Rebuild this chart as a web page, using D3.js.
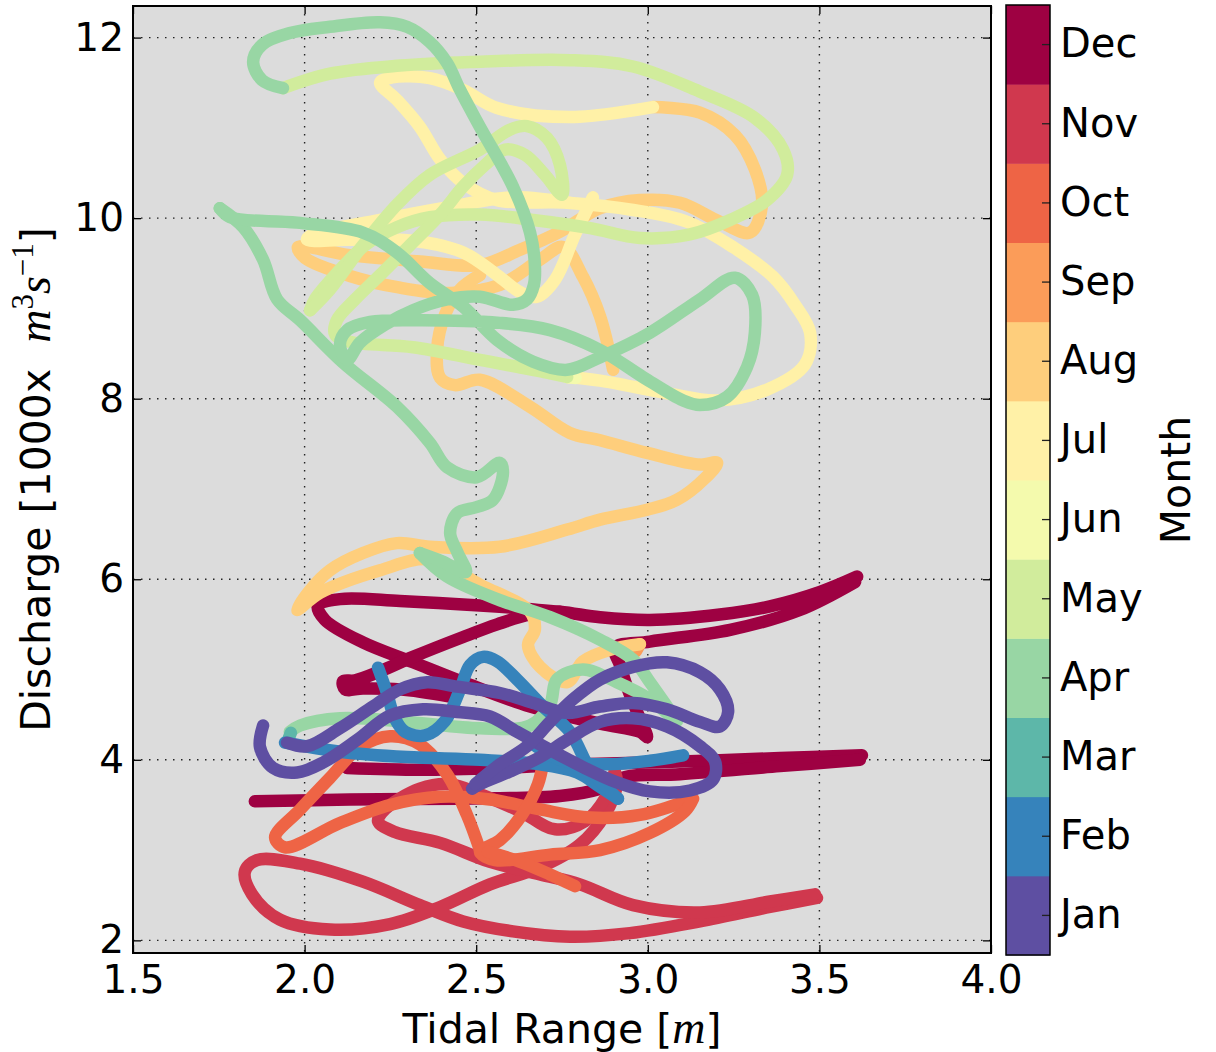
<!DOCTYPE html>
<html>
<head>
<meta charset="utf-8">
<script src="https://cdn.jsdelivr.net/npm/d3@7"></script>
<style>
body { margin: 0; background: #fff; }
text { font-family: "DejaVu Sans", sans-serif; fill: #000; }
</style>
</head>
<body>
<script>
var months = ["Jan","Feb","Mar","Apr","May","Jun","Jul","Aug","Sep","Oct","Nov","Dec"];
var xTicks = [1.5, 2.0, 2.5, 3.0, 3.5, 4.0];
var yTicks = [2, 4, 6, 8, 10, 12];

// trajectory pieces: [tidal range (m), discharge (1000 m3/s)]
var janA = [[1.879,4.38],[1.870,4.14],[1.908,3.91],[1.978,3.86],[2.054,3.97],[2.153,4.22],[2.249,4.49],[2.345,4.56],[2.444,4.53],[2.540,4.48],[2.619,4.31],[2.715,4.11],[2.811,3.92],[2.910,3.75],[3.006,3.65],[3.123,3.66],[3.190,3.78],[3.196,3.98],[3.152,4.15],[3.056,4.37],[2.957,4.46],[2.861,4.42],[2.765,4.22],[2.686,4.03],[2.598,3.87],[2.511,3.73],[2.488,3.68]];
var janB = [[1.949,4.19],[2.007,4.15],[2.103,4.35],[2.199,4.59],[2.278,4.78],[2.357,4.86],[2.444,4.81],[2.569,4.74],[2.666,4.63],[2.765,4.52],[2.861,4.59],[2.957,4.63],[3.056,4.56],[3.152,4.42],[3.210,4.37],[3.234,4.53],[3.210,4.78],[3.152,4.97],[3.056,5.08],[2.957,5.03],[2.861,4.89],[2.782,4.67],[2.715,4.42],[2.648,4.15],[2.569,3.95],[2.497,3.73]];
var febA = [[1.943,4.19],[2.103,4.09],[2.298,4.03],[2.511,4.00],[2.686,3.95],[2.794,3.86],[2.861,3.70],[2.913,3.57]];
var febB = [[2.913,3.57],[2.875,3.71],[2.832,3.89],[2.773,4.31],[2.695,4.59],[2.619,4.89],[2.561,5.09],[2.520,5.14],[2.482,5.05],[2.453,4.78],[2.409,4.43],[2.351,4.27],[2.293,4.31],[2.263,4.46],[2.240,4.74],[2.214,5.02]];
var febC = [[2.657,4.20],[2.744,4.00],[2.870,3.95],[3.006,3.99],[3.103,4.05]];
var mar = [[1.950,4.20],[1.960,4.30]];
var aprA = [[1.957,4.31],[1.987,4.38],[2.103,4.46],[2.298,4.42],[2.511,4.35],[2.657,4.38],[2.715,4.61],[2.735,4.89],[2.811,5.00],[2.910,4.86],[3.006,4.67],[3.085,4.43],[3.056,4.59],[3.006,4.86],[2.957,5.11],[2.861,5.33],[2.715,5.58],[2.561,5.78],[2.415,6.03],[2.336,6.29]];
var aprB = [[2.336,6.29],[2.400,6.20],[2.470,6.08],[2.445,6.30],[2.424,6.51],[2.444,6.73],[2.502,6.80],[2.549,6.88],[2.578,7.18],[2.569,7.29],[2.502,7.13],[2.415,7.24],[2.365,7.51],[2.269,7.91],[2.112,8.40],[1.987,8.87],[1.920,9.10],[1.879,9.54],[1.821,9.90],[1.753,10.11]];
var aprC = [[1.753,10.11],[1.783,10.01],[1.978,9.95],[2.170,9.84],[2.269,9.62],[2.365,9.28],[2.462,9.02],[2.561,8.65],[2.666,8.41],[2.765,8.32],[2.861,8.46],[3.006,8.73],[3.152,9.10],[3.254,9.34],[3.304,9.15],[3.312,8.73],[3.289,8.35],[3.231,8.02],[3.152,7.93],[3.103,7.98],[2.986,8.24],[2.861,8.54],[2.715,8.76],[2.569,8.84],[2.316,8.87],[2.191,8.85],[2.124,8.76],[2.103,8.60],[2.124,8.43],[2.161,8.62],[2.234,8.82],[2.316,8.98],[2.415,9.10],[2.511,9.13],[2.607,9.04],[2.648,9.10],[2.668,9.26],[2.671,9.48],[2.657,9.84],[2.607,10.35],[2.511,11.01],[2.453,11.42],[2.415,11.72],[2.365,11.95],[2.298,12.12],[2.220,12.17],[2.074,12.12],[1.957,12.05],[1.876,11.92],[1.850,11.73],[1.876,11.53],[1.937,11.44]];
var mayA = [[1.937,11.44],[2.074,11.60],[2.278,11.69],[2.482,11.73],[2.773,11.75],[2.957,11.68],[3.152,11.40],[3.312,11.11],[3.394,10.76],[3.406,10.48],[3.347,10.20],[3.240,9.98],[3.123,9.82],[2.977,9.78],[2.832,9.89],[2.666,9.98],[2.511,10.04],[2.365,10.01],[2.269,9.90],[2.176,9.70],[2.089,9.37],[2.030,9.10],[2.016,8.98]];
var mayB = [[2.016,8.98],[2.074,9.21],[2.170,9.70],[2.269,10.15],[2.365,10.48],[2.511,10.76],[2.598,10.98],[2.648,11.02],[2.706,10.89],[2.744,10.59],[2.750,10.26],[2.700,10.48],[2.642,10.70],[2.584,10.76],[2.526,10.59],[2.462,10.35],[2.395,10.04],[2.307,9.70],[2.220,9.37],[2.147,9.10],[2.094,8.87],[2.089,8.71],[2.132,8.63],[2.316,8.57],[2.511,8.43],[2.706,8.29],[2.765,8.24]];
var jun = [[2.765,8.24],[2.790,8.23]];
var julA = [[2.765,8.24],[2.861,8.20],[3.056,8.06],[3.202,7.98],[3.347,8.10],[3.458,8.38],[3.473,8.73],[3.429,9.04],[3.365,9.35],[3.248,9.68],[3.114,9.96],[2.957,10.09],[2.765,10.17],[2.561,10.20],[2.462,10.39],[2.395,10.65],[2.336,11.01],[2.269,11.31],[2.220,11.50],[2.255,11.56],[2.365,11.55],[2.462,11.42],[2.561,11.22],[2.773,11.12],[3.015,11.23]];
var julB = [[2.840,10.23],[2.788,9.82],[2.730,9.32],[2.677,9.13],[2.628,9.18],[2.561,9.37],[2.462,9.62],[2.316,9.75],[2.124,9.76],[2.007,9.76],[2.024,9.82],[2.220,9.98],[2.415,10.12],[2.607,10.23],[2.773,10.17]];
var augA = [[3.015,11.23],[3.152,11.17],[3.254,10.92],[3.312,10.54],[3.333,10.15],[3.298,9.84],[3.210,9.96],[3.094,10.17],[2.977,10.20],[2.861,10.11],[2.744,9.85],[2.628,9.65],[2.511,9.48],[2.336,9.52],[2.132,9.59],[1.981,9.68],[2.001,9.56],[2.132,9.36],[2.278,9.23],[2.424,9.17],[2.569,9.26],[2.686,9.54],[2.753,9.68],[2.811,9.35],[2.861,8.91],[2.899,8.32]];
var augB = [[2.511,9.37],[2.453,9.21],[2.409,8.93],[2.386,8.54],[2.395,8.23],[2.438,8.15],[2.511,8.21],[2.657,7.91],[2.773,7.62],[2.861,7.54],[2.998,7.40],[3.152,7.27],[3.202,7.29],[3.167,7.12],[3.085,6.88],[2.998,6.77],[2.861,6.66],[2.765,6.55],[2.569,6.36],[2.365,6.36],[2.269,6.40],[2.170,6.29],[2.074,6.10],[2.016,5.88],[1.978,5.66],[2.045,5.85],[2.220,6.10],[2.365,6.22],[2.511,5.94],[2.657,5.64],[2.671,5.44],[2.651,5.27],[2.686,5.03],[2.765,4.86],[2.811,5.09],[2.890,5.22],[2.977,5.28]];
var sep = [[2.977,5.28],[2.965,5.20]];
var octA = [[2.511,3.00],[2.473,3.39],[2.415,3.84],[2.336,4.17],[2.249,4.26],[2.161,4.14],[2.074,3.80],[1.987,3.45],[1.914,3.14],[1.943,3.03],[2.103,3.30],[2.249,3.50],[2.395,3.59],[2.540,3.56],[2.686,3.45],[2.832,3.36],[2.977,3.39],[3.123,3.56]];
var octB = [[2.700,4.09],[2.680,3.73],[2.633,3.39],[2.569,3.11],[2.511,2.98],[2.555,2.89],[2.715,2.95],[2.861,3.00],[3.006,3.19],[3.108,3.43],[3.132,3.57]];
var octC = [[2.534,2.98],[2.628,2.87],[2.715,2.73],[2.788,2.60]];
var novA = [[3.493,2.47],[3.356,2.37],[3.152,2.21],[2.948,2.08],[2.773,2.04],[2.607,2.10],[2.462,2.21],[2.336,2.39],[2.170,2.65],[1.987,2.85],[1.861,2.89],[1.826,2.76],[1.847,2.51],[1.928,2.23],[2.074,2.12],[2.249,2.18],[2.395,2.37],[2.540,2.62],[2.686,2.81],[2.802,3.06],[2.875,3.39],[2.910,3.73],[2.904,3.87]];
var novB = [[2.904,3.87],[2.875,3.57],[2.817,3.32],[2.730,3.23],[2.628,3.43],[2.511,3.62],[2.424,3.73],[2.336,3.68],[2.234,3.45],[2.214,3.32],[2.263,3.20],[2.395,3.08],[2.540,2.87],[2.686,2.73],[2.802,2.62],[2.957,2.39],[3.152,2.31],[3.356,2.43],[3.487,2.51]];
var decA = [[3.610,6.03],[3.502,5.86],[3.356,5.70],[3.210,5.61],[3.006,5.55],[2.861,5.58],[2.744,5.64],[2.511,5.71],[2.278,5.76],[2.103,5.78],[2.039,5.71],[2.059,5.55],[2.170,5.30],[2.316,5.08],[2.462,4.86],[2.657,4.59],[2.861,4.40],[2.977,4.31],[2.998,4.25],[2.972,4.50],[2.942,4.78],[2.919,5.05],[2.904,5.24],[3.006,5.31],[3.240,5.44],[3.443,5.66],[3.604,5.97]];
var decB = [[2.744,5.64],[2.657,5.61],[2.561,5.50],[2.462,5.36],[2.316,5.14],[2.220,4.98],[2.147,4.88],[2.112,4.87],[2.118,4.78],[2.170,4.79],[2.278,4.78],[2.424,4.70]];
var decC = [[2.124,3.91],[2.336,3.89],[2.569,3.91],[2.802,3.95],[3.094,3.98],[3.385,4.02],[3.624,4.05]];
var decD = [[1.855,3.54],[2.132,3.56],[2.453,3.57],[2.744,3.60],[2.861,3.68],[2.934,3.81],[3.094,3.84],[3.385,3.93],[3.618,4.00]];

// later months underneath, January on top
var tracks = [
    {month: "Dec", pts: decA}, {month: "Dec", pts: decB}, {month: "Dec", pts: decC}, {month: "Dec", pts: decD},
    {month: "Nov", pts: novA}, {month: "Nov", pts: novB},
    {month: "Oct", pts: octA}, {month: "Oct", pts: octB}, {month: "Oct", pts: octC},
    {month: "Sep", pts: sep},
    {month: "Aug", pts: augA}, {month: "Aug", pts: augB},
    {month: "Jul", pts: julA}, {month: "Jul", pts: julB},
    {month: "Jun", pts: jun},
    {month: "May", pts: mayA}, {month: "May", pts: mayB},
    {month: "Apr", pts: aprA}, {month: "Apr", pts: aprB}, {month: "Apr", pts: aprC},
    {month: "Mar", pts: mar},
    {month: "Feb", pts: febA}, {month: "Feb", pts: febB}, {month: "Feb", pts: febC},
    {month: "Jan", pts: janA}, {month: "Jan", pts: janB}
];

var spectral = ["#9e0142","#d53e4f","#f46d43","#fdae61","#fee08b","#ffffbf","#e6f598","#abdda4","#66c2a5","#3288bd","#5e4fa2"];
var spec = d3.scaleLinear()
    .domain(d3.range(11).map(function(i) { return i / 10; }))
    .range(spectral)
    .interpolate(d3.interpolateRgb);
var color = function(m) { return spec((11 - months.indexOf(m)) / 11); };

var pLeft = 133, pRight = 991, pTop = 6, pBottom = 953;

var svg = d3.select("body").append("svg")
    .attr("width", 1216)
    .attr("height", 1052);

var x = d3.scaleLinear().domain([1.5, 4.0]).range([pLeft, pRight]);
var y = d3.scaleLinear().domain([1.86, 12.35]).range([pBottom, pTop]);

svg.append("rect")
    .attr("x", pLeft).attr("y", pTop)
    .attr("width", pRight - pLeft).attr("height", pBottom - pTop)
    .attr("fill", "#dcdcdc");

svg.append("clipPath").attr("id", "clip")
    .append("rect")
    .attr("x", pLeft).attr("y", pTop)
    .attr("width", pRight - pLeft).attr("height", pBottom - pTop);

// dotted grid
svg.append("g").selectAll("line")
    .data(xTicks).enter().append("line")
    .attr("x1", function(d) { return x(d); }).attr("x2", function(d) { return x(d); })
    .attr("y1", pTop).attr("y2", pBottom)
    .attr("stroke", "#222").attr("stroke-width", 1.4)
    .attr("stroke-dasharray", "1.5,6.5");
svg.append("g").selectAll("line")
    .data(yTicks).enter().append("line")
    .attr("x1", pLeft).attr("x2", pRight)
    .attr("y1", function(d) { return y(d); }).attr("y2", function(d) { return y(d); })
    .attr("stroke", "#222").attr("stroke-width", 1.4)
    .attr("stroke-dasharray", "1.5,6.5");

var line = d3.line()
    .x(function(d) { return x(d[0]); })
    .y(function(d) { return y(d[1]); })
    .curve(d3.curveCatmullRom.alpha(0.5));

svg.append("g").attr("clip-path", "url(#clip)")
    .selectAll("path")
    .data(tracks).enter().append("path")
    .attr("d", function(d) { return line(d.pts); })
    .attr("fill", "none")
    .attr("stroke", function(d) { return color(d.month); })
    .attr("stroke-width", 12.5)
    .attr("stroke-linecap", "round")
    .attr("stroke-linejoin", "round");

// axes, matplotlib style ticks pointing inwards on all four sides
svg.append("g")
    .attr("transform", "translate(0," + pBottom + ")")
    .call(d3.axisBottom(x).tickValues(xTicks).tickFormat(d3.format(".1f"))
        .tickSizeInner(-8).tickSizeOuter(0).tickPadding(12));
svg.append("g")
    .attr("transform", "translate(" + pLeft + ",0)")
    .call(d3.axisLeft(y).tickValues(yTicks).tickFormat(d3.format("d"))
        .tickSizeInner(-8).tickSizeOuter(0).tickPadding(9));
svg.append("g")
    .attr("transform", "translate(0," + pTop + ")")
    .call(d3.axisTop(x).tickValues(xTicks).tickFormat("").tickSizeInner(-8).tickSizeOuter(0));
svg.append("g")
    .attr("transform", "translate(" + pRight + ",0)")
    .call(d3.axisRight(y).tickValues(yTicks).tickFormat("").tickSizeInner(-8).tickSizeOuter(0));

svg.selectAll(".domain").remove();
svg.selectAll(".tick line").attr("stroke", "#000").attr("stroke-width", 1.3);
svg.selectAll(".tick text")
    .style("font-family", "'DejaVu Sans', sans-serif")
    .style("font-size", "39px")
    .attr("fill", "#000");

svg.append("rect")
    .attr("x", pLeft).attr("y", pTop)
    .attr("width", pRight - pLeft).attr("height", pBottom - pTop)
    .attr("fill", "none").attr("stroke", "#000").attr("stroke-width", 2);

// axis titles
var xlab = svg.append("text")
    .attr("x", (pLeft + pRight) / 2).attr("y", 1043)
    .attr("text-anchor", "middle")
    .style("font-size", "41px");
xlab.append("tspan").text("Tidal Range [");
xlab.append("tspan").style("font-family", "'Liberation Serif', serif").style("font-style", "italic").style("font-size", "46px").text("m");
xlab.append("tspan").text("]");

var ylab = svg.append("text")
    .attr("transform", "translate(50," + (pTop + pBottom) / 2 + ") rotate(-90)")
    .attr("text-anchor", "middle")
    .style("font-size", "41px");
ylab.append("tspan").text("Discharge [1000x\u00a0\u00a0");
ylab.append("tspan").style("font-family", "'Liberation Serif', serif").style("font-style", "italic").style("font-size", "46px").text("m");
ylab.append("tspan").attr("dy", -17).style("font-family", "'Liberation Serif', serif").style("font-size", "31px").text("3");
ylab.append("tspan").attr("dy", 17).style("font-family", "'Liberation Serif', serif").style("font-style", "italic").style("font-size", "46px").text("s");
ylab.append("tspan").attr("dy", -17).style("font-family", "'Liberation Serif', serif").style("font-size", "31px").text("\u22121");
ylab.append("tspan").attr("dy", 17).text("]");

// colorbar
var cbLeft = 1006, cbRight = 1050, cbTop = 5, cbBottom = 955;
var cb = d3.scaleBand().domain(months.slice().reverse()).range([cbTop, cbBottom]);

svg.append("g").selectAll("rect")
    .data(months).enter().append("rect")
    .attr("x", cbLeft)
    .attr("y", function(d) { return cb(d); })
    .attr("width", cbRight - cbLeft)
    .attr("height", cb.bandwidth() + 0.5)
    .attr("fill", function(d) { return color(d); });

svg.append("g")
    .attr("transform", "translate(" + cbRight + ",0)")
    .call(d3.axisRight(cb).tickSizeInner(-8).tickSizeOuter(0).tickPadding(10))
    .call(function(g) {
        g.select(".domain").remove();
        g.selectAll(".tick line").attr("stroke", "#222").attr("stroke-width", 1.3);
        g.selectAll(".tick text")
            .style("font-family", "'DejaVu Sans', sans-serif")
            .style("font-size", "40px")
            .attr("fill", "#000");
    });

svg.append("rect")
    .attr("x", cbLeft).attr("y", cbTop)
    .attr("width", cbRight - cbLeft).attr("height", cbBottom - cbTop)
    .attr("fill", "none").attr("stroke", "#000").attr("stroke-width", 1.5);

svg.append("text")
    .attr("transform", "translate(1190," + (cbTop + cbBottom) / 2 + ") rotate(-90)")
    .attr("text-anchor", "middle")
    .style("font-size", "41px")
    .text("Month");
</script>
</body>
</html>
